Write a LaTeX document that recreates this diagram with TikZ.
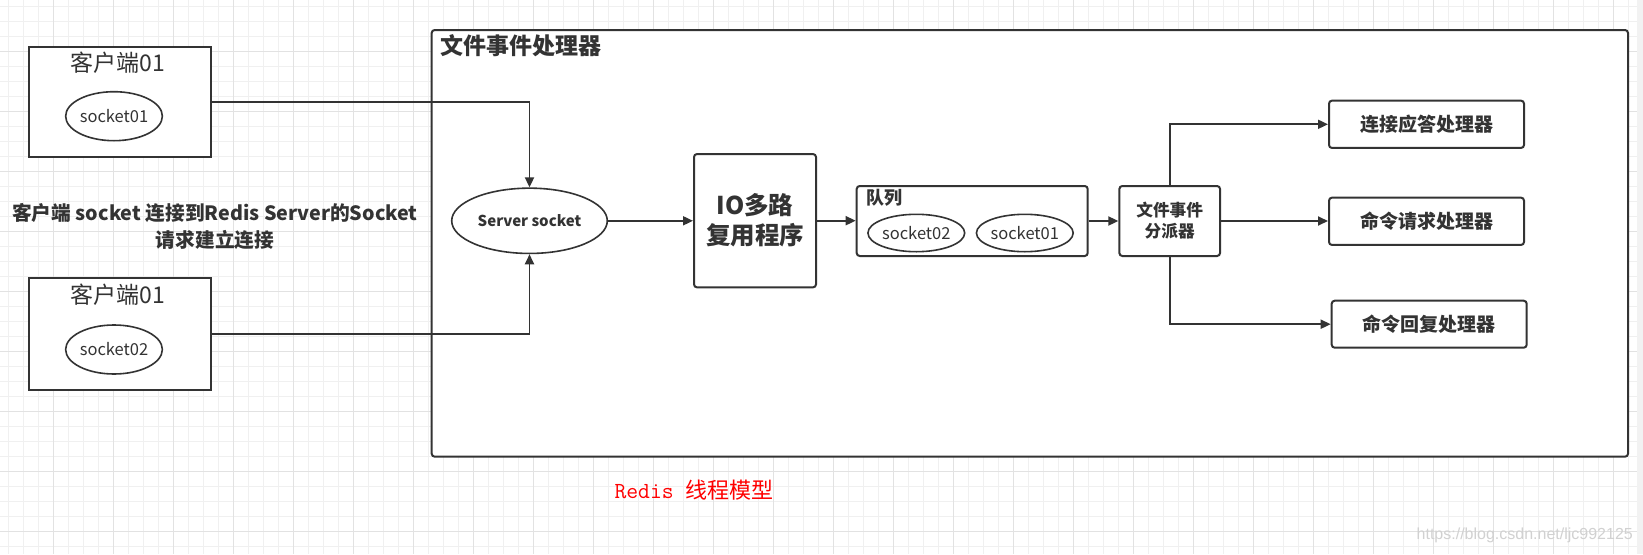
\documentclass[tikz,border=0pt]{standalone}
\usepackage{fontspec}
\setmainfont{Noto Sans CJK SC}
\newfontfamily\cjk{Noto Sans CJK SC}
\newfontfamily\wmfont{Liberation Sans}
\usetikzlibrary{shapes.geometric,arrows.meta}
\definecolor{ln}{HTML}{333333}
\definecolor{gmin}{HTML}{F0F0F0}
\definecolor{gmaj}{HTML}{E2E2E2}
\definecolor{redtxt}{HTML}{FF0000}
\newcommand{\fs}[1]{\fontsize{#1pt}{#1pt}\selectfont}
\tikzset{
  cbox/.style={draw=ln, line width=2pt, fill=white, inner sep=0pt},
  rbox/.style={draw=ln, line width=2pt, fill=white, rounded corners=3pt, inner sep=0pt, align=center, text=ln},
  ell/.style={ellipse, draw=ln, line width=1.6pt, fill=white, inner sep=0pt, text=ln},
  conn/.style={draw=ln, line width=1.8pt, -{Triangle[length=10pt,width=9pt]}},
  lbl/.style={inner sep=0pt, text=ln},
}
\begin{document}
\begin{tikzpicture}[x=1pt,y=-1pt]
\useasboundingbox (0,0) rectangle (1643,554);
\fill[white] (0,0) rectangle (1643,554);
% grid
\foreach \x in {8.3,23.3,...,1643} \draw[gmin, line width=1pt] (\x,0) -- (\x,554);
\foreach \y in {6.7,21.7,...,554} \draw[gmin, line width=1pt] (0,\y) -- (1643,\y);
\foreach \x in {53.3,113.3,...,1643} \draw[gmaj, line width=1pt] (\x,0) -- (\x,554);
\foreach \y in {51.7,111.7,...,554} \draw[gmaj, line width=1pt] (0,\y) -- (1643,\y);
\fill[black!5] (1637,0) rectangle (1643,554);

% big frame
\node[rbox, minimum width=1196.3pt, minimum height=426.7pt] (frame) at (1029.85,243.35) {};
\node[lbl, anchor=west, font=\bfseries\fs{23}] (ftitle) at (440,46) {文件事件处理器};

% clients
\node[cbox, minimum width=182pt, minimum height=110.6pt] (c1) at (120,102) {};
\node[lbl, font=\fs{23}] (c1t) at (118,63) {客户端01};
\node[ell, minimum width=92pt, minimum height=49pt, font=\fs{16.5}] (s1) at (114,116.2) {socket01};

\node[cbox, minimum width=182pt, minimum height=111.7pt] (c2) at (120,334.2) {};
\node[lbl, font=\fs{23}] (c2t) at (118,295) {客户端01};
\node[ell, minimum width=92pt, minimum height=49pt, font=\fs{16.5}] (s2) at (114,349.5) {socket02};

\node[lbl, align=center, font=\bfseries\fontsize{19.7pt}{26.7pt}\selectfont] (mid) at (215,226.7)
  {客户端 socket 连接到Redis Server的Socket\\请求建立连接};

% server socket
\node[ell, minimum width=155.6pt, minimum height=65.3pt, font=\bfseries\fs{15}] (srv) at (529.5,220.8) {Server socket};

% IO box
\node[rbox, minimum width=122pt, minimum height=133.3pt, font=\bfseries\fontsize{24.5pt}{30pt}\selectfont] (io) at (755,220.7) {IO多路\\复用程序};

% queue
\node[rbox, minimum width=231pt, minimum height=70pt] (queue) at (972.2,221) {};
\node[lbl, anchor=west, font=\bfseries\fs{18}] (qt) at (866.7,198.3) {队列};
\node[ell, minimum width=94pt, minimum height=37.4pt, font=\fs{16.5}] (q2) at (916.3,233) {socket02};
\node[ell, minimum width=94pt, minimum height=37.4pt, font=\fs{16.5}] (q1) at (1024.8,233) {socket01};

% dispatcher
\node[rbox, minimum width=100.7pt, minimum height=70pt, font=\bfseries\fontsize{16.7pt}{21pt}\selectfont] (disp) at (1169.7,221) {文件事件\\分派器};

% handlers
\node[rbox, minimum width=195pt, minimum height=47.3pt, font=\bfseries\fs{19}] (h1) at (1426.5,124.3) {连接应答处理器};
\node[rbox, minimum width=195pt, minimum height=47.3pt, font=\bfseries\fs{19}] (h2) at (1426.5,221.3) {命令请求处理器};
\node[rbox, minimum width=195pt, minimum height=47pt, font=\bfseries\fs{19}] (h3) at (1429.2,324.2) {命令回复处理器};

% connectors
\draw[conn] (c1.east) -- (c1.east -| srv.north) -- (srv.north);
\draw[conn] (c2.east) -- (c2.east -| srv.south) -- (srv.south);
\draw[conn] (srv.east) -- (io.west |- srv.east);
\draw[conn] (io.east) -- (queue.west |- io.east);
\draw[conn] (queue.east) -- (disp.west);
\draw[conn] (disp.east) -- (h2.west |- disp.east);
\draw[conn] (disp.north) |- (h1.west);
\draw[conn] (disp.south) |- (h3.west);

% caption
\node[lbl, anchor=west, text=redtxt, font=\fs{23}] (cap) at (614.3,490) {{\ttfamily Redis }{\fs{22}线程模型}};

% watermark
\node[lbl, anchor=east, text=black!18, font=\wmfont\fs{16}] (wm) at (1633,535) {https://blog.csdn.net/ljc992125};
\end{tikzpicture}
\end{document}
